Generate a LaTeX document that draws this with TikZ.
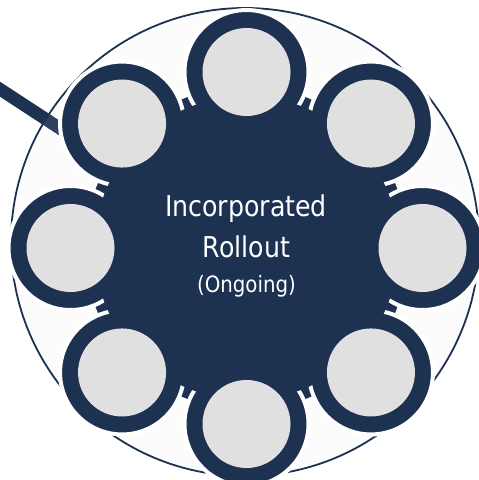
\documentclass[tikz,border=0pt]{standalone}
\usepackage{fontspec}
\newfontfamily\tfont[FakeStretch=0.88]{DejaVu Sans}
\definecolor{navy}{HTML}{1D3151}
\definecolor{lgray}{HTML}{E0E0E0}
\definecolor{bgin}{HTML}{FCFCFC}
\tikzset{
  ringnode/.style={circle, inner sep=0pt, minimum size=124pt, fill=navy, draw=white, line width=4pt},
  dotnode/.style={circle, inner sep=0pt, minimum size=88pt, fill=lgray},
  hubnode/.style={circle, inner sep=0pt, fill=navy},
  labeltext/.style={text=white, anchor=base, inner sep=0pt, font=\tfont},
  connector/.style={draw=navy, line width=12.6pt}
}
\begin{document}
\begin{tikzpicture}[x=1pt,y=-1pt]
\useasboundingbox (0,0) rectangle (479,480);
\fill[white] (0,0) rectangle (479,480);
\clip (0,0) rectangle (479,480);
\coordinate (O) at (245,242);
\coordinate (C) at (246.5,248);
\fill[bgin] (O) circle (234);
\coordinate (ls) at (-8,84);
\coordinate (le) at (90,148);
\draw[connector] (ls) -- (le);
\node[circle, inner sep=0pt, minimum size=468pt, draw=navy, line width=1.8pt, fill=white, fill opacity=0.08] (outer) at (O) {};
\node[hubnode, minimum size=324pt] (hub) at (C) {};
\foreach \i in {0,...,7} {
  \node[ringnode] (s\i) at ([shift={(90+45*\i:176)}]C) {};
}
\node[hubnode, minimum size=304pt] (core) at (C) {};
\foreach \i in {0,...,7} {
  \node[dotnode] (g\i) at (s\i.center) {};
}
\node[labeltext, font=\tfont\fontsize{28.7}{30}\selectfont] (t1) at (246,216) {Incorporated};
\node[labeltext, font=\tfont\fontsize{28.7}{30}\selectfont] (t2) at (246.5,257.3) {Rollout};
\node[labeltext, font=\tfont\fontsize{22.5}{24}\selectfont] (t3) at (246.5,292) {(Ongoing)};
\end{tikzpicture}
\end{document}
